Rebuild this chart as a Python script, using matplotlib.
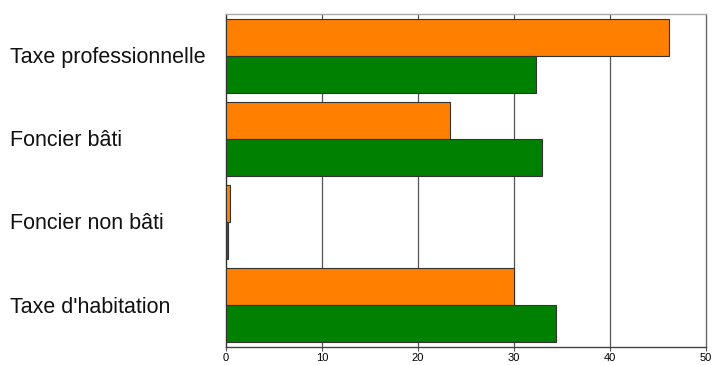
import numpy as np
import matplotlib
matplotlib.use('Agg')
from matplotlib import pyplot as plt
from matplotlib.transforms import blended_transform_factory

plt.rcParams['font.family'] = ['Liberation Sans', 'DejaVu Sans']

# categories, bottom to top
categories = ["Taxe d'habitation", "Foncier non bâti", "Foncier bâti", "Taxe professionnelle"]
serie_orange = [30.0, 0.4, 23.3, 46.1]
serie_verte = [34.4, 0.2, 32.9, 32.3]
xticks = [0, 10, 20, 30, 40, 50]

fig = plt.figure(figsize=(7.15, 3.65), dpi=100)
ax = fig.add_axes([226 / 715, 1 - 347 / 365, 480 / 715, 333 / 365])

y = np.arange(len(categories))
h = 0.445
ax.barh(y + h / 2, serie_orange, height=h, color='#ff8000', edgecolor='#333333', linewidth=0.8, zorder=3)
ax.barh(y - h / 2, serie_verte, height=h, color='#008000', edgecolor='#333333', linewidth=0.8, zorder=3)

ax.set_xlim(0, 50)
ax.set_ylim(-0.5, 3.5)
ax.set_xticks(xticks)
ax.set_xticklabels([str(v) for v in xticks], fontsize=8)
ax.tick_params(axis='x', length=3, width=0.8, color='#555555', pad=1.5)
ax.set_yticks([])

# grille verticale
for v in xticks[1:-1]:
    ax.axvline(v, color='#555555', linewidth=0.9, zorder=1)

ax.spines['left'].set_color('#333333')
ax.spines['left'].set_linewidth(1.0)
ax.spines['bottom'].set_color('#444444')
ax.spines['bottom'].set_linewidth(1.0)
ax.spines['top'].set_color('#aaaaaa')
ax.spines['top'].set_linewidth(1.0)
ax.spines['right'].set_color('#666666')
ax.spines['right'].set_linewidth(1.0)

trans = blended_transform_factory(fig.transFigure, ax.transData)
for yi, name in zip(y, categories):
    ax.text(10 / 715, yi - 0.02, name, transform=trans, ha='left', va='center', fontsize=15.5, color='#111111')

plt.savefig('out.png', dpi=100)
